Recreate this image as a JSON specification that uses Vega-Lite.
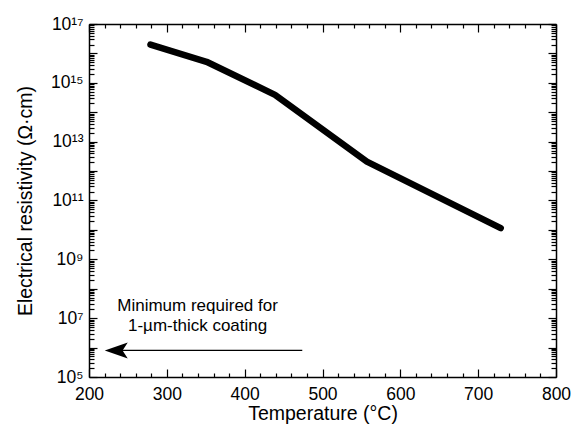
{
  "$schema": "https://vega.github.io/schema/vega-lite/v6.json",
  "width": 467,
  "height": 353,
  "autosize": "none",
  "padding": {"left": 89, "top": 24, "right": 21, "bottom": 54},
  "background": "white",
  "config": {
    "font": "Liberation Sans",
    "view": {"stroke": null},
    "axis": {
      "grid": false,
      "domainColor": "black",
      "domainWidth": 1.5,
      "tickColor": "black",
      "tickWidth": 1.2,
      "labelColor": "black",
      "labelFont": "Liberation Sans",
      "labelFontSize": 17.5,
      "labelOverlap": false,
      "labelFlush": false,
      "titleFont": "Liberation Sans",
      "titleFontSize": 19.5,
      "titleFontWeight": "normal",
      "titleColor": "black"
    }
  },
  "datasets": {
    "curve": [
      {"temp": 279, "res": 2.0e16},
      {"temp": 351, "res": 5.2e15},
      {"temp": 439, "res": 3.9e14},
      {"temp": 557, "res": 2.1e12},
      {"temp": 729, "res": 1.15e10}
    ],
    "arrow": [
      {"from": 235, "to": 474, "level": 8e5}
    ],
    "note": [
      {"temp": 339.5, "res": 1.7e7, "label": "Minimum required for\n1-µm-thick coating"}
    ]
  },
  "resolve": {"axis": {"x": "independent", "y": "independent"}},
  "layer": [
    {
      "data": {"name": "curve"},
      "mark": {"type": "line", "color": "black", "strokeWidth": 6.5, "strokeCap": "round", "strokeJoin": "round"},
      "encoding": {
        "x": {
          "field": "temp", "type": "quantitative",
          "scale": {"domain": [200, 800], "nice": false, "zero": false},
          "axis": {"orient": "bottom", "values": [200, 300, 400, 500, 600, 700, 800], "tickSize": -8, "labelPadding": 16, "title": "Temperature (°C)", "titlePadding": 2}
        },
        "y": {
          "field": "res", "type": "quantitative",
          "scale": {"type": "log", "domain": [1e5, 1e17], "nice": false},
          "axis": {
            "orient": "left",
            "values": [1e5, 1e6, 1e7, 1e8, 1e9, 1e10, 1e11, 1e12, 1e13, 1e14, 1e15, 1e16, 1e17],
            "tickSize": -8,
            "labelPadding": 14,
            "labelExpr": "datum.value == 1e5 ? '10⁵' : datum.value == 1e7 ? '10⁷' : datum.value == 1e9 ? '10⁹' : datum.value == 1e11 ? '10¹¹' : datum.value == 1e13 ? '10¹³' : datum.value == 1e15 ? '10¹⁵' : datum.value == 1e17 ? '10¹⁷' : ''",
            "title": "Electrical resistivity (Ω·cm)",
            "titlePadding": 15
          }
        }
      }
    },
    {
      "data": {"name": "curve"},
      "mark": {"type": "point", "opacity": 0},
      "encoding": {
        "x": {
          "field": "temp", "type": "quantitative",
          "scale": {"domain": [200, 800], "nice": false, "zero": false},
          "axis": {"orient": "bottom", "values": [220, 240, 260, 280, 320, 340, 360, 380, 420, 440, 460, 480, 520, 540, 560, 580, 620, 640, 660, 680, 720, 740, 760, 780], "tickSize": -4, "labels": false, "domain": false, "title": null}
        },
        "y": {
          "field": "res", "type": "quantitative",
          "scale": {"type": "log", "domain": [1e5, 1e17], "nice": false},
          "axis": {
            "orient": "left",
            "values": [2e5,3e5,4e5,5e5,6e5,7e5,8e5,9e5,2e6,3e6,4e6,5e6,6e6,7e6,8e6,9e6,2e7,3e7,4e7,5e7,6e7,7e7,8e7,9e7,2e8,3e8,4e8,5e8,6e8,7e8,8e8,9e8,2e9,3e9,4e9,5e9,6e9,7e9,8e9,9e9,2e10,3e10,4e10,5e10,6e10,7e10,8e10,9e10,2e11,3e11,4e11,5e11,6e11,7e11,8e11,9e11,2e12,3e12,4e12,5e12,6e12,7e12,8e12,9e12,2e13,3e13,4e13,5e13,6e13,7e13,8e13,9e13,2e14,3e14,4e14,5e14,6e14,7e14,8e14,9e14,2e15,3e15,4e15,5e15,6e15,7e15,8e15,9e15,2e16,3e16,4e16,5e16,6e16,7e16,8e16,9e16],
            "tickSize": -5, "labels": false, "domain": false, "title": null
          }
        }
      }
    },
    {
      "data": {"name": "curve"},
      "mark": {"type": "point", "opacity": 0},
      "encoding": {
        "x": {
          "field": "temp", "type": "quantitative",
          "scale": {"domain": [200, 800], "nice": false, "zero": false},
          "axis": {"orient": "top", "values": [200, 300, 400, 500, 600, 700, 800], "tickSize": -8, "labels": false, "title": null}
        },
        "y": {
          "field": "res", "type": "quantitative",
          "scale": {"type": "log", "domain": [1e5, 1e17], "nice": false},
          "axis": {"orient": "right", "values": [1e5, 1e6, 1e7, 1e8, 1e9, 1e10, 1e11, 1e12, 1e13, 1e14, 1e15, 1e16, 1e17], "tickSize": -8, "labels": false, "title": null}
        }
      }
    },
    {
      "data": {"name": "curve"},
      "mark": {"type": "point", "opacity": 0},
      "encoding": {
        "x": {
          "field": "temp", "type": "quantitative",
          "scale": {"domain": [200, 800], "nice": false, "zero": false},
          "axis": {"orient": "top", "values": [220, 240, 260, 280, 320, 340, 360, 380, 420, 440, 460, 480, 520, 540, 560, 580, 620, 640, 660, 680, 720, 740, 760, 780], "tickSize": -4, "labels": false, "domain": false, "title": null}
        },
        "y": {
          "field": "res", "type": "quantitative",
          "scale": {"type": "log", "domain": [1e5, 1e17], "nice": false},
          "axis": {
            "orient": "right",
            "values": [2e5,3e5,4e5,5e5,6e5,7e5,8e5,9e5,2e6,3e6,4e6,5e6,6e6,7e6,8e6,9e6,2e7,3e7,4e7,5e7,6e7,7e7,8e7,9e7,2e8,3e8,4e8,5e8,6e8,7e8,8e8,9e8,2e9,3e9,4e9,5e9,6e9,7e9,8e9,9e9,2e10,3e10,4e10,5e10,6e10,7e10,8e10,9e10,2e11,3e11,4e11,5e11,6e11,7e11,8e11,9e11,2e12,3e12,4e12,5e12,6e12,7e12,8e12,9e12,2e13,3e13,4e13,5e13,6e13,7e13,8e13,9e13,2e14,3e14,4e14,5e14,6e14,7e14,8e14,9e14,2e15,3e15,4e15,5e15,6e15,7e15,8e15,9e15,2e16,3e16,4e16,5e16,6e16,7e16,8e16,9e16],
            "tickSize": -5, "labels": false, "domain": false, "title": null
          }
        }
      }
    },
    {
      "data": {"name": "arrow"},
      "mark": {"type": "rule", "color": "black", "strokeWidth": 1.3},
      "encoding": {
        "x": {"field": "from", "type": "quantitative", "scale": {"domain": [200, 800], "nice": false, "zero": false}, "axis": null},
        "x2": {"field": "to"},
        "y": {"field": "level", "type": "quantitative", "scale": {"type": "log", "domain": [1e5, 1e17], "nice": false}, "axis": null}
      }
    },
    {
      "data": {"name": "arrow"},
      "mark": {"type": "point", "shape": "M-1,0L1,-0.7L0.55,0L1,0.7Z", "filled": true, "color": "black", "opacity": 1, "size": 529, "strokeWidth": 0},
      "encoding": {
        "x": {"field": "from", "type": "quantitative", "scale": {"domain": [200, 800], "nice": false, "zero": false}, "axis": null},
        "y": {"field": "level", "type": "quantitative", "scale": {"type": "log", "domain": [1e5, 1e17], "nice": false}, "axis": null}
      }
    },
    {
      "data": {"name": "note"},
      "mark": {"type": "text", "font": "Liberation Sans", "fontSize": 17, "color": "black", "align": "center", "baseline": "alphabetic", "lineBreak": "\n", "lineHeight": 20},
      "encoding": {
        "x": {"field": "temp", "type": "quantitative", "scale": {"domain": [200, 800], "nice": false, "zero": false}, "axis": null},
        "y": {"field": "res", "type": "quantitative", "scale": {"type": "log", "domain": [1e5, 1e17], "nice": false}, "axis": null},
        "text": {"field": "label"}
      }
    }
  ]
}
